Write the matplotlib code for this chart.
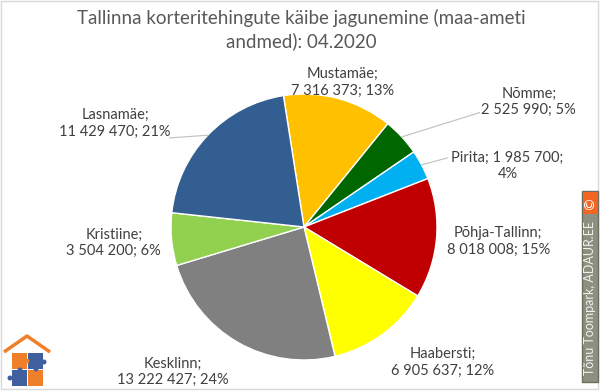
"""Tallinn apartment transaction turnover by district, 04.2020."""

import matplotlib.pyplot as plt
import numpy as np
from matplotlib.patches import Rectangle, Circle

districts = ["Mustamäe", "Nõmme", "Pirita", "Põhja-Tallinn",
             "Haabersti", "Kesklinn", "Kristiine", "Lasnamäe"]
turnover = [7316373, 2525990, 1985700, 8018008,
            6905637, 13222427, 3504200, 11429470]
shares = [13, 5, 4, 15, 12, 24, 6, 21]
colors = ["#FFC000", "#006600", "#00B0F0", "#C00000",
          "#FFFF00", "#808080", "#92D050", "#335E91"]

title = "Tallinna korteritehingute käibe jagunemine (maa-ameti\nandmed): 04.2020"

# label layout in pie-radius units (center, text) and leader line anchors
label_pos = {
    "Mustamäe": (0.29, 1.09),
    "Nõmme": (1.69, 0.94),
    "Pirita": (1.53, 0.46),
    "Põhja-Tallinn": (1.46, -0.11),
    "Haabersti": (1.04, -1.02),
    "Kesklinn": (-0.99, -1.09),
    "Kristiine": (-1.43, -0.12),
    "Lasnamäe": (-1.42, 0.78),
}
leader_end = {"Nõmme": (1.32, 0.86), "Pirita": (1.08, 0.52), "Lasnamäe": (-1.01, 0.67)}
label_text = {
    "Pirita": "Pirita; 1 985 700;\n4%",
}

FONT = "Lato"
TXT = "#404040"


def fmt(v):
    return f"{v:,}".replace(",", " ")


fig = plt.figure(figsize=(6, 3.92), dpi=100)
cx, cy, r = 304, 227, 133
ax = fig.add_axes([(cx - r) / 600, (392 - cy - r) / 392, 2 * r / 600, 2 * r / 392])
wedges, _ = ax.pie(turnover, colors=colors, startangle=98.9, counterclock=False,
                   wedgeprops=dict(edgecolor="white", linewidth=1.0))
ax.set_xlim(-1, 1)
ax.set_ylim(-1, 1)
ax.axis("off")

for name, val, pct, w in zip(districts, turnover, shares, wedges):
    x, y = label_pos[name]
    txt = label_text.get(name, f"{name};\n{fmt(val)}; {pct}%")
    ax.text(x, y, txt, ha="center", va="center", fontsize=10.5, color=TXT,
            family=FONT, linespacing=1.25)
    if name in leader_end:
        ang = np.deg2rad((w.theta1 + w.theta2) / 2)
        ex, ey = leader_end[name]
        ax.plot([np.cos(ang), ex], [np.sin(ang), ey], color="#BFBFBF",
                linewidth=0.8, clip_on=False)

fig.text(0.503, 0.925, title, ha="center", va="center", fontsize=13.5,
         color="#595959", family=FONT, linespacing=1.35)

# chart border
fig.patches.append(Rectangle((0.002, 0.008), 0.995, 0.99, transform=fig.transFigure,
                             fill=False, edgecolor="#D9D9D9", linewidth=1))

# watermark
fig.patches.append(Rectangle((582 / 600, 1 - 382 / 392), 16 / 600, 191 / 392,
                             transform=fig.transFigure, facecolor="#8E8F7E",
                             edgecolor="#6E6E60", linewidth=1))
fig.patches.append(Rectangle((583 / 600, 1 - 214 / 392), 14 / 600, 22 / 392,
                             transform=fig.transFigure, facecolor="#F26522",
                             edgecolor="none"))
fig.text(590 / 600, 1 - 203 / 392, "©", rotation=90, ha="center", va="center",
         fontsize=10, color="white", family="DejaVu Sans")
fig.text(590.5 / 600, 1 - 298 / 392, "Tõnu Toompark, ADAUR.EE", rotation=90,
         ha="center", va="center", fontsize=9, color="#F2F2F2", family=FONT)

# logo
lx = fig.add_axes([0, 0, 60 / 600, 82 / 392])
lx.set_xlim(0, 60)
lx.set_ylim(82, 0)
lx.axis("off")
lx.plot([4, 27, 50], [42, 26, 42], color="#F07F2A", linewidth=2.5,
        solid_capstyle="butt")
for (x0, y0, c) in [(12, 43, "#F07F2A"), (28, 43, "#3F5F9F"),
                    (12, 60, "#3F5F9F"), (28, 60, "#F07F2A")]:
    lx.add_patch(Rectangle((x0, y0), 15, 16, facecolor=c, edgecolor="none"))
for (x0, y0, c) in [(27, 51, "#F07F2A"), (20, 60, "#3F5F9F"),
                    (36, 59, "#3F5F9F"), (10, 68, "#3F5F9F"), (44, 52, "#3F5F9F")]:
    lx.add_patch(Circle((x0, y0), 2.5, facecolor=c, edgecolor="none"))

fig.savefig("out.png", dpi=100)
